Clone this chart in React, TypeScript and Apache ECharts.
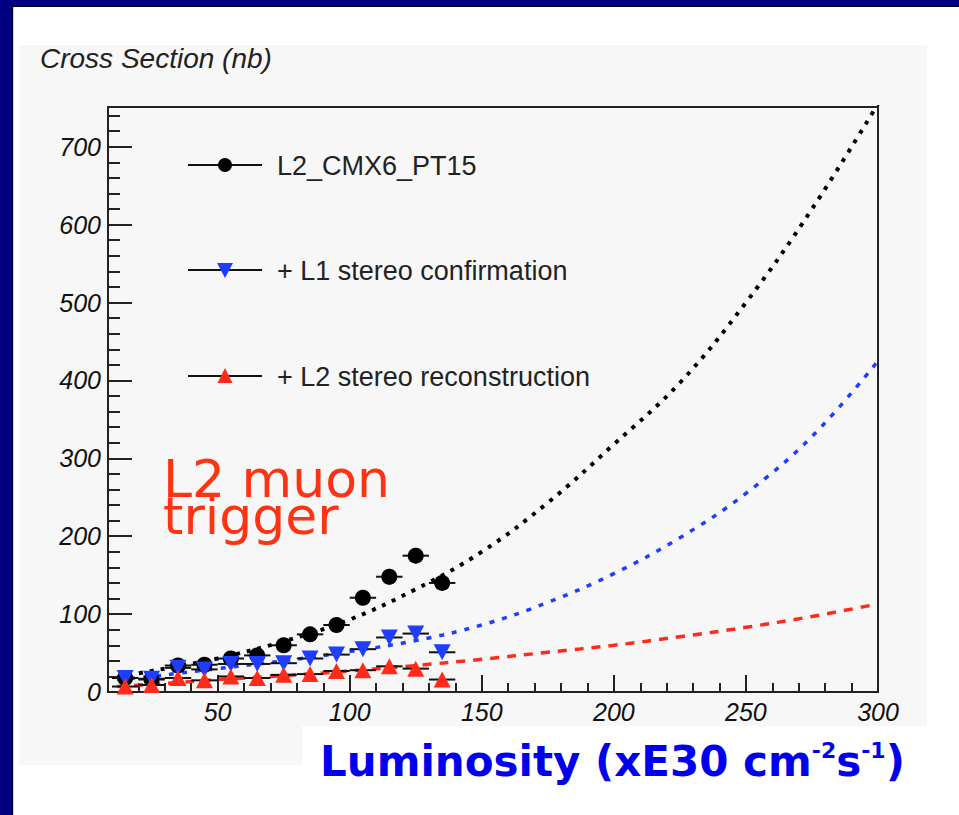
import React, { useEffect, useRef } from "react";
import * as echarts from "echarts";

// ---- data ----
const lumBins = [15, 25, 35, 45, 55, 65, 75, 85, 95, 105, 115, 125, 135];
const lumHalfWidth = [5, 5, 5, 5, 5, 5, 5, 5, 5, 5, 5, 5, 5];

const cmx6Values = [18, 16, 34, 35, 43, 47, 60, 74, 86, 121, 148, 175, 140];
const cmx6Err = [4, 4, 5, 5, 6, 6, 7, 8, 8, 9, 10, 10, 10];

const l1Values = [18, 17, 31, 29, 36, 36, 37, 43, 48, 55, 70, 75, 51];
const l1Err = [3, 3, 4, 4, 4, 4, 5, 5, 6, 6, 7, 7, 6];

const l2Values = [7, 9, 18, 15, 20, 18, 22, 23, 27, 28, 33, 30, 16];
const l2Err = [2, 2, 3, 3, 3, 3, 3, 4, 4, 4, 4, 4, 3];

const fitLum = [12, 25, 35, 50, 75, 100, 125, 150, 175, 200, 225, 250, 275, 300];
const cmx6Fit = [19, 27, 33, 43, 65, 93, 132, 180, 243, 318, 397, 500, 620, 755];
const l1Fit = [16, 20, 24, 30, 40, 52, 66, 86, 115, 152, 198, 255, 328, 425];
const l2Fit = [7, 10, 12, 16, 21, 27, 34, 42, 51, 60, 71, 83, 97, 113];

const xMajorTicks = [50, 100, 150, 200, 250, 300];
const xMinorTicks = [20, 30, 40, 60, 70, 80, 90, 110, 120, 130, 140, 160, 170, 180, 190, 210, 220, 230, 240, 260, 270, 280, 290];
const yMajorTicks = [0, 100, 200, 300, 400, 500, 600, 700];
const yMinorTicks = [20, 40, 60, 80, 120, 140, 160, 180, 220, 240, 260, 280, 320, 340, 360, 380, 420, 440, 460, 480, 520, 540, 560, 580, 620, 640, 660, 680, 720, 740];

const seriesNames = ["L2_CMX6_PT15", "+ L1 stereo confirmation", "+ L2 stereo reconstruction"];

function errData(vals: number[], errs: number[]) {
  return lumBins.map((x, i) => [x, vals[i], lumHalfWidth[i], errs[i]]);
}
function pts(xs: number[], ys: number[]) {
  return xs.map((x, i) => [x, ys[i]]);
}

const renderErr = (params: any, api: any) => {
  const x = api.value(0);
  const y = api.value(1);
  const xe = api.value(2);
  const ye = api.value(3);
  const l = api.coord([x - xe, y]);
  const r = api.coord([x + xe, y]);
  const t = api.coord([x, y + ye]);
  const b = api.coord([x, y - ye]);
  const st = { stroke: "#111", lineWidth: 2 };
  return {
    type: "group",
    children: [
      { type: "line", shape: { x1: l[0], y1: l[1], x2: r[0], y2: r[1] }, style: st },
      { type: "line", shape: { x1: t[0], y1: t[1], x2: b[0], y2: b[1] }, style: st },
    ],
  };
};

export default function App() {
  const ref = useRef<HTMLDivElement>(null);
  useEffect(() => {
    if (!ref.current) return;
    const chart = echarts.init(ref.current, null, { renderer: "svg" });
    const axisCol = "#222";
    const tickStyle = { color: axisCol, width: 2 };
    const labelFont = {
      fontSize: 25,
      fontStyle: "italic" as const,
      color: "#111",
      fontFamily: "Liberation Sans, Arial, sans-serif",
    };
    const option: any = {
      animation: false,
      backgroundColor: "#ffffff",
      grid: {
        left: 108,
        right: 81,
        top: 107,
        bottom: 123,
        show: true,
        borderColor: axisCol,
        borderWidth: 2,
        backgroundColor: "transparent",
        z: 3,
      },
      xAxis: [
        {
          type: "value",
          position: "bottom",
          min: 8.5,
          max: 300,
          axisLine: { show: true, lineStyle: tickStyle },
          axisTick: { show: true, inside: true, length: 17, customValues: xMajorTicks, lineStyle: tickStyle },
          axisLabel: { customValues: xMajorTicks, margin: 7, ...labelFont },
          splitLine: { show: false },
        },
        {
          type: "value",
          position: "bottom",
          min: 8.5,
          max: 300,
          axisLine: { show: false },
          axisTick: { show: true, inside: true, length: 9, customValues: xMinorTicks, lineStyle: tickStyle },
          axisLabel: { show: false },
          splitLine: { show: false },
        },
      ],
      yAxis: [
        {
          type: "value",
          position: "left",
          min: 0,
          max: 751,
          axisLine: { show: true, lineStyle: tickStyle },
          axisTick: { show: true, inside: true, length: 24, customValues: yMajorTicks, lineStyle: tickStyle },
          axisLabel: { customValues: yMajorTicks, margin: 7, ...labelFont },
          splitLine: { show: false },
        },
        {
          type: "value",
          position: "left",
          min: 0,
          max: 751,
          axisLine: { show: false },
          axisTick: { show: true, inside: true, length: 12, customValues: yMinorTicks, lineStyle: tickStyle },
          axisLabel: { show: false },
          splitLine: { show: false },
        },
      ],
      series: [
        {
          type: "line",
          name: seriesNames[0] + " fit",
          data: pts(fitLum, cmx6Fit),
          smooth: 0.4,
          showSymbol: false,
          lineStyle: { color: "#000", width: 4, type: [4, 7] },
          z: 2,
        },
        {
          type: "line",
          name: seriesNames[1] + " fit",
          data: pts(fitLum, l1Fit),
          smooth: 0.4,
          showSymbol: false,
          lineStyle: { color: "#1f3dff", width: 3.5, type: [5, 8] },
          z: 2,
        },
        {
          type: "line",
          name: seriesNames[2] + " fit",
          data: pts(fitLum, l2Fit),
          smooth: 0.4,
          showSymbol: false,
          lineStyle: { color: "#ff2a1a", width: 3.5, type: [9, 8] },
          z: 2,
        },
        {
          type: "custom",
          name: seriesNames[0] + " err",
          renderItem: renderErr,
          data: errData(cmx6Values, cmx6Err),
          encode: { x: 0, y: 1 },
          z: 3,
        },
        {
          type: "scatter",
          name: seriesNames[0],
          data: pts(lumBins, cmx6Values),
          symbol: "circle",
          symbolSize: 16,
          itemStyle: { color: "#000", opacity: 1 },
          z: 4,
        },
        {
          type: "custom",
          name: seriesNames[1] + " err",
          renderItem: renderErr,
          data: errData(l1Values, l1Err),
          encode: { x: 0, y: 1 },
          z: 5,
        },
        {
          type: "scatter",
          name: seriesNames[1],
          data: pts(lumBins, l1Values),
          symbol: "triangle",
          symbolRotate: 180,
          symbolSize: [17, 16],
          itemStyle: { color: "#1f3dff", opacity: 1 },
          z: 6,
        },
        {
          type: "custom",
          name: seriesNames[2] + " err",
          renderItem: renderErr,
          data: errData(l2Values, l2Err),
          encode: { x: 0, y: 1 },
          z: 7,
        },
        {
          type: "scatter",
          name: seriesNames[2],
          data: pts(lumBins, l2Values),
          symbol: "triangle",
          symbolSize: [17, 16],
          itemStyle: { color: "#ff2a1a", opacity: 1 },
          z: 8,
        },
      ],
      graphic: [
        // frame & panels
        { type: "rect", z: -10, shape: { x: 19, y: 45, width: 908, height: 681 }, style: { fill: "#f7f7f7" } },
        { type: "rect", z: -10, shape: { x: 19, y: 726, width: 283, height: 39 }, style: { fill: "#f7f7f7" } },
        { type: "rect", z: -9, shape: { x: 0, y: 0, width: 959, height: 6 }, style: { fill: "#000080" } },
        { type: "rect", z: -9, shape: { x: 0, y: 0, width: 13, height: 815 }, style: { fill: "#000080" } },
        { type: "rect", z: -9, shape: { x: 12, y: 6, width: 947, height: 1 }, style: { fill: "#000020" } },
        { type: "rect", z: -9, shape: { x: 12, y: 6, width: 1.2, height: 809 }, style: { fill: "#000020" } },
        // y axis title
        {
          type: "text",
          z: 10,
          x: 40,
          y: 58,
          style: {
            text: "Cross Section (nb)",
            fontSize: 28,
            fontStyle: "italic",
            fontFamily: "Liberation Sans, Arial, sans-serif",
            fill: "#222",
            verticalAlign: "middle",
            align: "left",
          },
        },
        // legend
        { type: "line", z: 10, shape: { x1: 188, y1: 165, x2: 262, y2: 165 }, style: { stroke: "#111", lineWidth: 2 } },
        { type: "circle", z: 11, shape: { cx: 225, cy: 165, r: 7 }, style: { fill: "#000" } },
        { type: "text", z: 10, x: 277, y: 166, style: { text: seriesNames[0], fontSize: 27, fontFamily: "Liberation Sans, Arial, sans-serif", fill: "#222", verticalAlign: "middle" } },
        { type: "line", z: 10, shape: { x1: 188, y1: 270, x2: 262, y2: 270 }, style: { stroke: "#111", lineWidth: 2 } },
        { type: "polygon", z: 11, shape: { points: [[217, 263], [233, 263], [225, 278]] }, style: { fill: "#1f3dff" } },
        { type: "text", z: 10, x: 277, y: 271, style: { text: seriesNames[1], fontSize: 27, fontFamily: "Liberation Sans, Arial, sans-serif", fill: "#222", verticalAlign: "middle" } },
        { type: "line", z: 10, shape: { x1: 188, y1: 376, x2: 262, y2: 376 }, style: { stroke: "#111", lineWidth: 2 } },
        { type: "polygon", z: 11, shape: { points: [[225, 368], [232.5, 383], [217.5, 383]] }, style: { fill: "#ff2a1a" } },
        { type: "text", z: 10, x: 277, y: 377, style: { text: seriesNames[2], fontSize: 27, fontFamily: "Liberation Sans, Arial, sans-serif", fill: "#222", verticalAlign: "middle" } },
        // red annotation (one text block, tight line spacing)
        {
          type: "text",
          z: 10,
          x: 163,
          y: 497,
          style: {
            text: "L2 muon\ntrigger",
            fontSize: 52,
            lineHeight: 37,
            fontFamily: "DejaVu Sans, sans-serif",
            fill: "#ff3311",
            verticalAlign: "middle",
          },
        },
        // x axis title
        {
          type: "text",
          z: 10,
          x: 320,
          y: 761,
          style: {
            text: "{m|Luminosity (xE30 cm}{s|-2}{m|s}{s|-1}{m|)}",
            verticalAlign: "middle",
            rich: {
              m: { fontSize: 42, fontWeight: "bold", fontFamily: "DejaVu Sans, sans-serif", fill: "#0000ee", lineHeight: 48 },
              s: { fontSize: 22, fontWeight: "bold", fontFamily: "DejaVu Sans, sans-serif", fill: "#0000ee", lineHeight: 48, padding: [0, 0, 22, 0] },
            },
          },
        },
      ],
    };
    chart.setOption(option);
    return () => chart.dispose();
  }, []);
  return (
    <div
      ref={ref}
      style={{ position: "fixed", left: 0, top: 0, width: 959, height: 815 }}
    />
  );
}
